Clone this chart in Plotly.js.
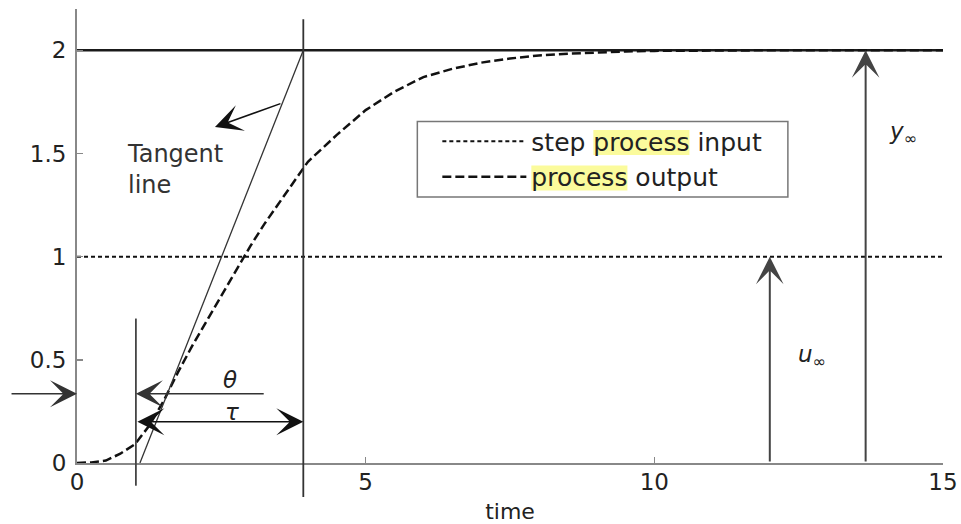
<!DOCTYPE html>
<html>
<head>
<meta charset="utf-8">
<script src="https://cdn.plot.ly/plotly-3.0.1.min.js"></script>
<style>html,body{margin:0;padding:0;background:#fff;}</style>
</head>
<body>
<div id="chart" style="width:961px;height:524px;"></div>
<script>
// ---- data ----
const timeX   = [0, 0.25, 0.5, 0.75, 1.0, 1.25, 1.5, 1.75, 2.0, 2.25, 2.5, 2.75, 3.0, 3.25, 3.5, 3.75, 4.0, 4.5, 5.0, 5.5, 6.0, 6.5, 7.0, 7.5, 8.0, 8.5, 9.0, 9.5, 10, 11, 12, 13, 14, 15];
const outputY = [0, 0.003, 0.012, 0.045, 0.09, 0.18, 0.30, 0.44, 0.57, 0.69, 0.81, 0.93, 1.05, 1.16, 1.26, 1.36, 1.46, 1.59, 1.71, 1.80, 1.87, 1.91, 1.94, 1.96, 1.975, 1.983, 1.99, 1.994, 1.997, 2.0, 2.0, 2.0, 2.0, 2.0];
const stepX   = [0, 15];
const stepY   = [1, 1];
const steadyX = [0, 15];
const steadyY = [2, 2];
const tangentX = [1.09, 3.92];
const tangentY = [0, 2];
const deadTimeX = 1.02;     // theta marker
const tauEndX   = 3.92;     // tau marker
const inputLevel = 0.335;   // input arrow / theta arrow height
const tauLevel   = 0.20;
const uInf = 1, yInf = 2;
const uArrowX = 12.0, yArrowX = 13.66;
const xTicks = [0, 5, 10, 15];
const yTicks = [0, 0.5, 1, 1.5, 2];
const yTickText = ['0', '0.5', '1', '1.5', '2'];
const seriesNames = ['step process input', 'process output'];
const highlightWord = 'process';

const X_RANGE = [0, 15], Y_RANGE = [0, 2.2];
const FONT = 'DejaVu Sans, Arial, sans-serif';
const yp = v => (v - Y_RANGE[0]) / (Y_RANGE[1] - Y_RANGE[0]);

const traces = [
  {x: steadyX, y: steadyY, mode: 'lines', line: {color: '#1a1a1a', width: 2.5}, showlegend: false, hoverinfo: 'skip'},
  {x: stepX, y: stepY, mode: 'lines', name: seriesNames[0], line: {color: '#111', width: 2, dash: '4px,3px'}},
  {x: timeX, y: outputY, mode: 'lines', name: seriesNames[1], line: {color: '#111', width: 2.5, dash: '9px,4px'}},
  {x: tangentX, y: tangentY, mode: 'lines', line: {color: '#333', width: 1.3}, showlegend: false, hoverinfo: 'skip'}
];

function arrow(hx, hy, tx, ty, extra) {
  return Object.assign({
    x: hx, y: hy, ax: tx, ay: ty, xref: 'x', yref: 'y', axref: 'x', ayref: 'y',
    text: '', showarrow: true, arrowhead: 3, arrowsize: 3, arrowwidth: 1.5,
    arrowcolor: '#111', standoff: 0, startstandoff: 0
  }, extra || {});
}
function label(x, y, text, extra) {
  return Object.assign({
    x: x, y: y, xref: 'x', yref: 'y', text: text, showarrow: false,
    font: {family: FONT, size: 22, color: '#222'}
  }, extra || {});
}

const annotations = [
  arrow(2.39, 1.628, 3.55, 1.744),
  arrow(deadTimeX, inputLevel, 3.26, inputLevel, {arrowcolor: '#333'}),
  arrow(tauEndX, tauLevel, deadTimeX, tauLevel, {arrowside: 'end+start', startarrowhead: 3, startarrowsize: 3}),
  arrow(0, inputLevel, -1.16, inputLevel, {arrowcolor: '#333'}),
  arrow(uArrowX, uInf, uArrowX, 0, {arrowcolor: '#444', arrowwidth: 2, arrowsize: 2.3}),
  arrow(yArrowX, yInf, yArrowX, 0, {arrowcolor: '#444', arrowwidth: 2, arrowsize: 2.3}),
  label(0.83, 1.575, 'Tangent<br>line', {xanchor: 'left', yanchor: 'top', align: 'left', font: {family: FONT, size: 24, color: '#333'}}),
  label(2.65, 0.40, '<i>θ</i>', {font: {family: FONT, size: 23, color: '#222'}}),
  label(2.68, 0.245, '<i>τ</i>', {font: {family: FONT, size: 23, color: '#222'}}),
  label(12.73, 0.52, '<i>u</i><sub>∞</sub>', {font: {family: FONT, size: 23, color: '#222'}}),
  label(14.31, 1.60, '<i>y</i><sub>∞</sub>', {font: {family: FONT, size: 23, color: '#222'}})
];

const baseShapes = [
  {type: 'line', xref: 'x', yref: 'paper', x0: deadTimeX, x1: deadTimeX, y0: yp(-0.11), y1: yp(0.70), line: {color: '#444', width: 1.8}},
  {type: 'line', xref: 'x', yref: 'paper', x0: tauEndX, x1: tauEndX, y0: yp(-0.165), y1: yp(2.15), line: {color: '#333', width: 1.8}}
];

const layout = {
  width: 961, height: 524,
  margin: {l: 77, r: 18, t: 9, b: 61},
  paper_bgcolor: '#fff', plot_bgcolor: 'rgba(0,0,0,0)',
  font: {family: FONT, color: '#222'},
  xaxis: {
    range: X_RANGE, tickvals: xTicks, showgrid: false, zeroline: false,
    showline: true, linecolor: '#888', linewidth: 2,
    ticks: 'inside', ticklen: 6, tickcolor: '#888', tickwidth: 1.5,
    tickfont: {family: FONT, size: 23, color: '#222'}, ticklabelstandoff: -3,
    title: {text: 'time', font: {family: FONT, size: 22, color: '#222'}, standoff: 14}
  },
  yaxis: {
    range: Y_RANGE, tickvals: yTicks, ticktext: yTickText, showgrid: false, zeroline: false,
    showline: true, linecolor: '#888', linewidth: 2,
    ticks: 'inside', ticklen: 6, tickcolor: '#888', tickwidth: 1.5,
    tickfont: {family: FONT, size: 23, color: '#222'}, ticklabelstandoff: 4
  },
  showlegend: true,
  legend: {
    x: 0.393, y: 0.759, xanchor: 'left', yanchor: 'top',
    bgcolor: 'rgba(0,0,0,0)', borderwidth: 0, indentation: 20,
    font: {family: FONT, size: 25, color: '#222'}, itemwidth: 84
  },
  annotations: annotations,
  shapes: baseShapes
};

const gd = document.getElementById('chart');
Plotly.newPlot(gd, traces, layout, {displayModeBar: false, staticPlot: true}).then(function () {
  const texts = Array.from(gd.querySelectorAll('.legendtext'));
  const box = gd.getBoundingClientRect();
  const L = layout.margin.l, T = layout.margin.t;
  const W = layout.width - layout.margin.l - layout.margin.r;
  const H = layout.height - layout.margin.t - layout.margin.b;
  const px = x => (x - box.left - L) / W;
  const py = y => 1 - (y - box.top - T) / H;
  const svg = gd.querySelector('svg.main-svg');
  const extra = [];
  texts.forEach(function (t) {
    const s = t.textContent, i = s.indexOf(highlightWord);
    if (i < 0) return;
    const a = t.getExtentOfChar(i), b = t.getExtentOfChar(i + highlightWord.length - 1);
    const m = t.getScreenCTM();
    const p1 = svg.createSVGPoint(); p1.x = a.x; p1.y = a.y + 2;
    const p2 = svg.createSVGPoint(); p2.x = b.x + b.width; p2.y = b.y + b.height - 2;
    const q1 = p1.matrixTransform(m), q2 = p2.matrixTransform(m);
    extra.push({type: 'rect', xref: 'paper', yref: 'paper', layer: 'above',
      x0: px(q1.x), x1: px(q2.x), y0: py(q1.y), y1: py(q2.y),
      fillcolor: '#fbfb9c', line: {width: 0}});
  });
  // legend frame, sized from the drawn legend entries
  const bg = gd.querySelector('.legend rect.bg').getBoundingClientRect();
  const rects = texts.map(t => t.getBoundingClientRect());
  const right = Math.max.apply(null, rects.map(r => r.right));
  const c0 = (rects[0].top + rects[0].bottom) / 2;
  const c1 = (rects[rects.length - 1].top + rects[rects.length - 1].bottom) / 2;
  extra.push({type: 'rect', xref: 'paper', yref: 'paper', layer: 'above',
    x0: px(bg.left), x1: px(right + 26), y0: py(c0 - 21), y1: py(c1 + 19),
    fillcolor: 'rgba(0,0,0,0)', line: {color: '#777', width: 1.5}});
  return Plotly.relayout(gd, {shapes: baseShapes.concat(extra)});
});
</script>
</body>
</html>
